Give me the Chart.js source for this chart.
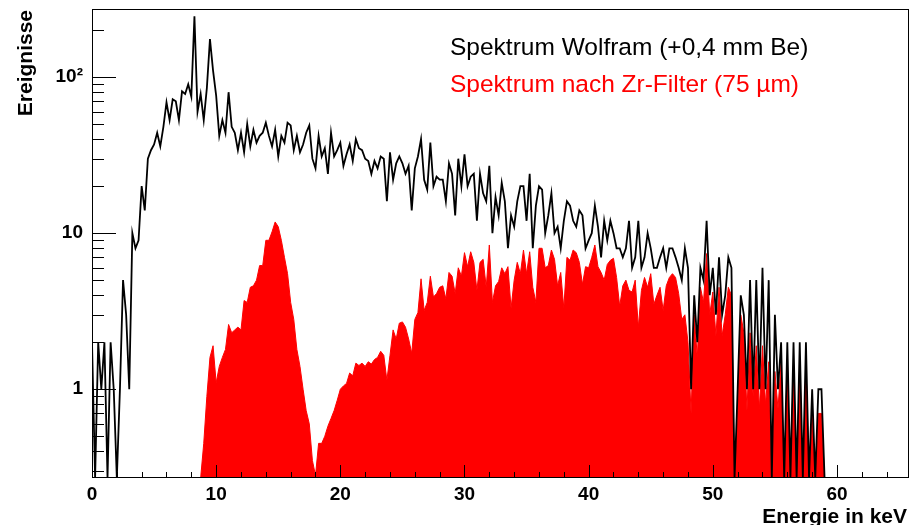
<!DOCTYPE html>
<html>
<head>
<meta charset="utf-8">
<script src="https://cdn.jsdelivr.net/npm/chart.js@4/dist/chart.umd.min.js"></script>
<style>
  html, body { margin: 0; padding: 0; background: #fff; }
  #wrap { width: 914px; height: 525px; position: relative; }
</style>
</head>
<body>
<div id="wrap"><canvas id="spektrumChart"></canvas></div>
<script>
// Bin-Mitten in keV (0,25 keV Bins)
const energie = [
  0, 0.25, 0.5, 0.75, 1, 1.25, 1.5, 1.75, 2, 2.25, 2.5, 2.75, 3, 3.25, 3.5, 3.75,
  4, 4.25, 4.5, 4.75, 5, 5.25, 5.5, 5.75, 6, 6.25, 6.5, 6.75, 7, 7.25, 7.5, 7.75,
  8, 8.25, 8.5, 8.75, 9, 9.25, 9.5, 9.75, 10, 10.25, 10.5, 10.75, 11, 11.25, 11.5, 11.75,
  12, 12.25, 12.5, 12.75, 13, 13.25, 13.5, 13.75, 14, 14.25, 14.5, 14.75, 15, 15.25, 15.5, 15.75,
  16, 16.25, 16.5, 16.75, 17, 17.25, 17.5, 17.75, 18, 18.25, 18.5, 18.75, 19, 19.25, 19.5, 19.75,
  20, 20.25, 20.5, 20.75, 21, 21.25, 21.5, 21.75, 22, 22.25, 22.5, 22.75, 23, 23.25, 23.5, 23.75,
  24, 24.25, 24.5, 24.75, 25, 25.25, 25.5, 25.75, 26, 26.25, 26.5, 26.75, 27, 27.25, 27.5, 27.75,
  28, 28.25, 28.5, 28.75, 29, 29.25, 29.5, 29.75, 30, 30.25, 30.5, 30.75, 31, 31.25, 31.5, 31.75,
  32, 32.25, 32.5, 32.75, 33, 33.25, 33.5, 33.75, 34, 34.25, 34.5, 34.75, 35, 35.25, 35.5, 35.75,
  36, 36.25, 36.5, 36.75, 37, 37.25, 37.5, 37.75, 38, 38.25, 38.5, 38.75, 39, 39.25, 39.5, 39.75,
  40, 40.25, 40.5, 40.75, 41, 41.25, 41.5, 41.75, 42, 42.25, 42.5, 42.75, 43, 43.25, 43.5, 43.75,
  44, 44.25, 44.5, 44.75, 45, 45.25, 45.5, 45.75, 46, 46.25, 46.5, 46.75, 47, 47.25, 47.5, 47.75,
  48, 48.25, 48.5, 48.75, 49, 49.25, 49.5, 49.75, 50, 50.25, 50.5, 50.75, 51, 51.25, 51.5, 51.75,
  52, 52.25, 52.5, 52.75, 53, 53.25, 53.5, 53.75, 54, 54.25, 54.5, 54.75, 55, 55.25, 55.5, 55.75,
  56, 56.25, 56.5, 56.75, 57, 57.25, 57.5, 57.75, 58, 58.25, 58.5, 58.75, 59, 59.25
];

// Spektrum Wolfram (+0,4 mm Be), Ereignisse pro Bin
const wolfram = [
  2, 0, 2, 1, 2, 0, 2, 1, 0, 1, 5, 3, 1, 10, 8, 9,
  20, 14, 30, 34, 37, 44, 36, 48, 69, 53, 72, 70, 53, 81, 78, 90,
  75, 245, 60, 78, 53, 85, 175, 110, 76, 42, 53, 44, 80, 48, 44, 34,
  44, 33, 50, 36, 46, 38, 42, 44, 51, 42, 36, 46, 31, 42, 38, 51,
  49, 34, 42, 33, 37, 44, 49, 30, 26, 42, 31, 35, 24, 44, 31, 34,
  38, 27, 32, 37, 29, 40, 35, 34, 30, 29, 24, 29, 26, 31, 30, 16,
  33, 22, 28, 31, 28, 24, 27, 14, 26, 31, 40, 22, 19, 38, 20, 23,
  22, 22, 16, 28, 24, 13, 30, 20, 32, 20, 23, 24, 12, 24, 18, 16,
  27, 10, 17, 13, 21, 16, 8, 13, 11, 16, 20, 20, 12, 24, 8, 15,
  20, 19, 10, 13, 18, 10, 11, 8, 12, 16, 15, 12, 11, 14, 13, 8,
  9, 10, 15, 11, 7, 12, 9, 12, 10, 8, 8, 7, 8, 12, 6, 7,
  12, 6, 7, 10, 8, 6, 6, 7, 8, 6, 8, 8, 7, 6, 5, 8,
  6, 1, 4, 2, 6, 5, 12, 4, 6, 3, 7, 3, 4, 7, 6, 0,
  1, 4, 3, 1, 5, 1, 5, 1, 6, 1, 5, 0, 3, 1, 2, 0,
  2, 0, 2, 0, 2, 0, 2, 0, 1, 0, 1, 1, 0, 0
];

// Spektrum nach Zr-Filter (75 µm)
const zrFilter = [
  null, null, null, null, null, null, null, null, null, null, null, null, null, null, null, null,
  null, null, null, null, null, null, null, null, null, null, null, null, null, null, null, null,
  null, null, null, 0, 0.45, 0.9, 1.6, 1.9, 1.1, 1.4, 1.6, 1.8, 2.6, 2.3, 2.4, 2.5,
  2.4, 3.7, 3.6, 4.5, 4.6, 5.0, 6.2, 6.2, 9.0, 9.0, 10.2, 11.8, 11.0, 9.0, 7.0, 5.5,
  3.6, 2.8, 1.8, 1.4, 1.0, 0.73, 0.6, 0.35, 0.28, 0.45, 0.45, 0.5, 0.58, 0.65, 0.73, 0.85,
  1.0, 1.05, 1.09, 1.27, 1.22, 1.47, 1.42, 1.47, 1.4, 1.5, 1.45, 1.55, 1.6, 1.75, 1.65, 1.14,
  1.65, 2.4, 2.1, 2.65, 2.7, 2.5, 2.1, 1.7, 2.8, 3.1, 5.1, 3.2, 3.6, 5.3, 3.9, 4.1,
  4.5, 4.6, 3.8, 5.6, 5.3, 4.1, 6.0, 5.3, 7.5, 6.1, 7.6, 6.5, 4.3, 6.5, 6.8, 4.5,
  8.4, 3.6, 4.6, 4.9, 6.0, 5.5, 6.1, 3.3, 5.0, 6.5, 5.5, 7.8, 5.5, 7.6, 4.5, 3.6,
  8.0, 8.0, 6.0, 6.2, 7.8, 6.8, 4.6, 5.6, 3.3, 7.0, 6.7, 7.8, 7.5, 6.5, 4.7, 6.1,
  6.0, 7.0, 8.4, 6.1, 5.6, 5.0, 6.3, 6.7, 6.9, 5.2, 3.4, 4.6, 5.0, 4.3, 4.2, 5.0,
  2.5, 4.3, 5.2, 4.5, 5.5, 3.5, 4.0, 4.5, 3.2, 4.6, 5.2, 5.5, 5.2, 4.1, 2.8, 3.0,
  2.0, 0.7, 3.0, 1.6, 4.5, 3.6, 7.4, 3.0, 4.2, 2.2, 4.5, 2.2, 3.0, 4.5, 4.0, 0,
  0.73, 3.0, 2.3, 0.73, 2.3, 0.9, 1.9, 0.75, 1.9, 0.8, 1.5, 0, 1.3, 0.75, 1.5, 0,
  1.5, 0, 1.5, 0, 1.5, 0, 1.5, 0, 0.7, 0, 0.7, 0.7, 0, 0
];

// Achsen
const xTickWerte = [0, 2, 4, 6, 8, 10, 12, 14, 16, 18, 20, 22, 24, 26, 28, 30, 32,
  34, 36, 38, 40, 42, 44, 46, 48, 50, 52, 54, 56, 58, 60, 62, 64];
const xTickLabels = { 0: '0', 10: '10', 20: '20', 30: '30', 40: '40', 50: '50', 60: '60' };
const yTickWerte = [0.3, 0.4, 0.5, 0.6, 0.7, 0.8, 0.9, 1, 2, 3, 4, 5, 6, 7, 8, 9,
  10, 20, 30, 40, 50, 60, 70, 80, 90, 100, 200];
const yTickLabels = { 1: '1', 10: '10', 100: '10²' };
const legendenTexte = ['Spektrum Wolfram (+0,4 mm Be)', 'Spektrum nach Zr-Filter (75 µm)'];
const legendenFarben = ['#000000', '#ff0000'];

const schrift = '"Liberation Sans", Arial, Helvetica, sans-serif';

// leere Bins (0) landen bei parsing:false am unteren Achsenrand
function punkte(werte) {
  return energie.map((e, i) => ({ x: e, y: werte[i] === null ? NaN : werte[i] }));
}

const rahmenPlugin = {
  id: 'rahmen',
  afterDatasetsDraw(chart) {
    const { ctx, chartArea: a, scales: { x, y } } = chart;
    ctx.save();
    ctx.strokeStyle = '#000';
    ctx.lineWidth = 1;

    // Ticks nach innen
    xTickWerte.forEach(v => {
      const px = Math.round(x.getPixelForValue(v)) + 0.5;
      const len = v % 10 === 0 ? 13 : 6;
      ctx.beginPath();
      ctx.moveTo(px, a.bottom);
      ctx.lineTo(px, a.bottom - len);
      ctx.stroke();
    });
    yTickWerte.forEach(v => {
      const py = Math.round(y.getPixelForValue(v)) + 0.5;
      const len = yTickLabels[v] ? 24 : 12;
      ctx.beginPath();
      ctx.moveTo(a.left, py);
      ctx.lineTo(a.left + len, py);
      ctx.stroke();
    });

    // Rahmen
    ctx.strokeRect(a.left + 0.5, a.top + 0.5, a.right - a.left - 1, a.bottom - a.top - 1);

    // Legende
    ctx.font = '24.5px ' + schrift;
    ctx.textAlign = 'left';
    ctx.textBaseline = 'alphabetic';
    legendenTexte.forEach((t, i) => {
      ctx.fillStyle = legendenFarben[i];
      ctx.fillText(t, 450, 55 + i * 37);
    });

    // Achsentitel
    ctx.fillStyle = '#000';
    ctx.font = 'bold 21px ' + schrift;
    ctx.textAlign = 'right';
    ctx.fillText('Energie in keV', 907, 523);

    ctx.translate(32, 10);
    ctx.rotate(-Math.PI / 2);
    ctx.textAlign = 'right';
    ctx.fillText('Ereignisse', 0, 0);
    ctx.restore();
  }
};

const ctx = document.getElementById('spektrumChart');
new Chart(ctx, {
  type: 'line',
  data: {
    datasets: [
      {
        label: legendenTexte[0],
        data: punkte(wolfram),
        parsing: false,
        borderColor: '#000000',
        borderWidth: 1.8,
        pointRadius: 0,
        fill: false,
        tension: 0,
        order: 0
      },
      {
        label: legendenTexte[1],
        data: punkte(zrFilter),
        parsing: false,
        borderColor: '#ff0000',
        backgroundColor: '#ff0000',
        borderWidth: 1,
        pointRadius: 0,
        fill: 'start',
        tension: 0,
        order: 1
      }
    ]
  },
  options: {
    responsive: true,
    maintainAspectRatio: false,
    animation: false,
    layout: { padding: { top: 9, right: 5, left: 0, bottom: 0 } },
    plugins: {
      legend: { display: false },
      tooltip: { enabled: false }
    },
    scales: {
      x: {
        type: 'linear',
        min: 0,
        max: 65.8,
        grid: { display: false, drawTicks: false },
        border: { display: false },
        afterBuildTicks: s => { s.ticks = xTickWerte.map(v => ({ value: v })); },
        afterFit: s => { s.height = 47; s.paddingLeft = 0; s.paddingRight = 0; },
        ticks: {
          autoSkip: false,
          maxRotation: 0,
          padding: 5,
          color: '#000',
          font: { family: schrift, size: 19, weight: 'bold' },
          callback: v => xTickLabels[v] || ''
        }
      },
      y: {
        type: 'logarithmic',
        min: 0.27,
        max: 273,
        grid: { display: false, drawTicks: false },
        border: { display: false },
        afterBuildTicks: s => { s.ticks = yTickWerte.map(v => ({ value: v })); },
        afterFit: s => { s.width = 92; s.paddingTop = 0; s.paddingBottom = 0; },
        ticks: {
          autoSkip: false,
          padding: 9,
          color: '#000',
          font: { family: schrift, size: 19, weight: 'bold' },
          callback: v => yTickLabels[v] || ''
        }
      }
    }
  },
  plugins: [rahmenPlugin]
});
</script>
</body>
</html>
